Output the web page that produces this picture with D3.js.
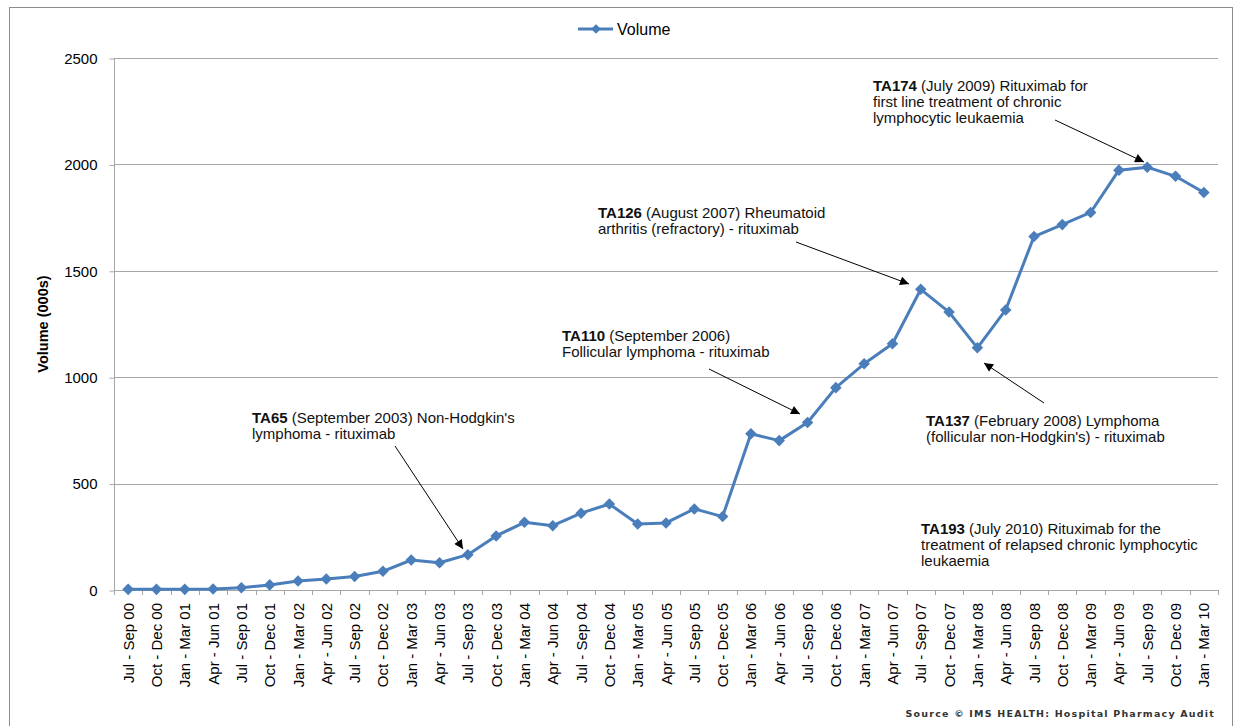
<!DOCTYPE html>
<html>
<head>
<meta charset="utf-8">
<script src="https://cdn.jsdelivr.net/npm/d3@7"></script>
<style>
  body { margin: 0; background: #fff; }
  svg { display: block; font-family: "Liberation Sans", Arial, sans-serif; }
</style>
</head>
<body>
<script>
// quarters, Jul-Sep 2000 .. Jan-Mar 2010
var quarters = [
  "Jul - Sep 00", "Oct - Dec 00",
  "Jan - Mar 01", "Apr - Jun 01", "Jul - Sep 01", "Oct - Dec 01",
  "Jan - Mar 02", "Apr - Jun 02", "Jul - Sep 02", "Oct - Dec 02",
  "Jan - Mar 03", "Apr - Jun 03", "Jul - Sep 03", "Oct - Dec 03",
  "Jan - Mar 04", "Apr - Jun 04", "Jul - Sep 04", "Oct - Dec 04",
  "Jan - Mar 05", "Apr - Jun 05", "Jul - Sep 05", "Oct - Dec 05",
  "Jan - Mar 06", "Apr - Jun 06", "Jul - Sep 06", "Oct - Dec 06",
  "Jan - Mar 07", "Apr - Jun 07", "Jul - Sep 07", "Oct - Dec 07",
  "Jan - Mar 08", "Apr - Jun 08", "Jul - Sep 08", "Oct - Dec 08",
  "Jan - Mar 09", "Apr - Jun 09", "Jul - Sep 09", "Oct - Dec 09",
  "Jan - Mar 10"
];
var volume = [
  3, 3, 3, 5, 11, 24, 42, 52, 63, 88,
  141, 128, 166, 254, 318, 302, 361, 404, 310, 315,
  381, 345, 734, 702, 787, 951, 1063, 1157, 1413, 1306,
  1138, 1316, 1661, 1717, 1774, 1973, 1987, 1944, 1868
];
var yTicks = [0, 500, 1000, 1500, 2000, 2500];

var notes = [
  { bold: "TA65", lines: [" (September 2003) Non-Hodgkin's", "lymphoma - rituximab"] },
  { bold: "TA110", lines: [" (September 2006)", "Follicular lymphoma - rituximab"] },
  { bold: "TA126", lines: [" (August 2007) Rheumatoid", "arthritis (refractory) - rituximab"] },
  { bold: "TA174", lines: [" (July 2009) Rituximab for", "first line treatment of chronic", "lymphocytic leukaemia"] },
  { bold: "TA137", lines: [" (February 2008) Lymphoma", "(follicular non-Hodgkin's) - rituximab"] },
  { bold: "TA193", lines: [" (July 2010) Rituximab for the", "treatment of relapsed chronic lymphocytic", "leukaemia"] }
];

var W = 1243, H = 726;
var plotL = 114, plotR = 1218, plotT = 58, plotB = 590;
var blue = "#4a7ebb";
var grid = "#a6a6a6";

var svg = d3.select("body").append("svg")
  .attr("width", W).attr("height", H);

svg.append("rect")
  .attr("x", 9.5).attr("y", 7.5).attr("width", 1223).attr("height", 730)
  .attr("fill", "#fff").attr("stroke", "#8c8c8c").attr("stroke-width", 1);

var x = d3.scaleBand().domain(quarters).range([plotL, plotR]);
var y = d3.scaleLinear().domain([0, 2500]).range([plotB, plotT]);

// gridlines
svg.append("g").selectAll("line")
  .data(yTicks.filter(function(d) { return d > 0; })).enter()
  .append("line")
  .attr("x1", plotL).attr("x2", plotR)
  .attr("y1", function(d) { return Math.round(y(d)) + 0.5; })
  .attr("y2", function(d) { return Math.round(y(d)) + 0.5; })
  .attr("stroke", grid);

// y axis
var yAxis = svg.append("g")
  .attr("transform", "translate(" + (plotL + 0.5) + ",0.5)")
  .call(d3.axisLeft(y).tickValues(yTicks).tickFormat(d3.format("d")).tickSize(5).tickPadding(12));
yAxis.select(".domain").attr("stroke", grid).attr("d", "M0," + plotT + "V" + plotB);
yAxis.selectAll(".tick line").attr("stroke", grid);
yAxis.selectAll(".tick text")
  .attr("font-size", 15).attr("fill", "#000")
  .attr("font-family", "Liberation Sans, Arial, sans-serif");

// x axis: ticks between categories, labels rotated
var xg = svg.append("g");
xg.append("line")
  .attr("x1", plotL).attr("x2", plotR)
  .attr("y1", plotB + 0.5).attr("y2", plotB + 0.5)
  .attr("stroke", grid);
xg.selectAll("line.tk")
  .data(d3.range(quarters.length + 1)).enter()
  .append("line").attr("class", "tk")
  .attr("x1", function(i) { return Math.round(plotL + i * x.step()) + 0.5; })
  .attr("x2", function(i) { return Math.round(plotL + i * x.step()) + 0.5; })
  .attr("y1", plotB).attr("y2", plotB + 5)
  .attr("stroke", grid);
xg.selectAll("text")
  .data(quarters).enter()
  .append("text")
  .attr("transform", function(d) {
    return "translate(" + (x(d) + x.bandwidth() / 2 + 5.5) + "," + (plotB + 13) + ") rotate(-90)";
  })
  .attr("text-anchor", "end")
  .attr("font-size", 15)
  .text(function(d) { return d; });

// y title
svg.append("text")
  .attr("transform", "translate(48," + ((plotT + plotB) / 2) + ") rotate(-90)")
  .attr("text-anchor", "middle")
  .attr("font-size", 14.5).attr("font-weight", "bold")
  .text("Volume (000s)");

// series
var cx = function(d, i) { return x(quarters[i]) + x.bandwidth() / 2; };
var line = d3.line()
  .x(function(d, i) { return cx(d, i); })
  .y(function(d) { return y(d); });
svg.append("path")
  .datum(volume)
  .attr("d", line)
  .attr("fill", "none").attr("stroke", blue).attr("stroke-width", 3)
  .attr("stroke-linejoin", "round");

var diamond = d3.symbol().type(d3.symbolDiamond2).size(85);
svg.append("g").selectAll("path")
  .data(volume).enter()
  .append("path")
  .attr("d", diamond)
  .attr("transform", function(d, i) { return "translate(" + cx(d, i) + "," + y(d) + ")"; })
  .attr("fill", blue);

// legend
var lg = svg.append("g").attr("transform", "translate(578,29)");
lg.append("line").attr("x1", 0).attr("x2", 35).attr("stroke", blue).attr("stroke-width", 3);
lg.append("path").attr("d", d3.symbol().type(d3.symbolDiamond2).size(60)).attr("transform", "translate(18,0)").attr("fill", blue);
lg.append("text").attr("x", 39).attr("y", 5.5).attr("font-size", 16).text("Volume");

// annotations
svg.append("defs").append("marker")
  .attr("id", "ah").attr("viewBox", "0 0 10 10")
  .attr("refX", 10).attr("refY", 5)
  .attr("markerWidth", 11).attr("markerHeight", 9)
  .attr("markerUnits", "userSpaceOnUse")
  .attr("orient", "auto")
  .append("path").attr("d", "M0,0L10,5L0,10Z").attr("fill", "#000");

var notePos = [
  { x: 252, y: 423, ax: [395, 446], at: [463, 549] },
  { x: 562, y: 341, ax: [709, 369], at: [800, 414] },
  { x: 598, y: 218, ax: [796, 242], at: [909, 284] },
  { x: 873, y: 91,  ax: [1055, 120], at: [1144, 162] },
  { x: 926, y: 426, ax: [1044, 403], at: [984, 363] },
  { x: 921, y: 534, ax: null, at: null }
];

notes.forEach(function(n, k) {
  var p = notePos[k];
  var t = svg.append("text").attr("x", p.x).attr("y", p.y).attr("font-size", 15).attr("fill", "#111");
  t.append("tspan").attr("font-weight", "bold").text(n.bold);
  t.append("tspan").text(n.lines[0]);
  n.lines.slice(1).forEach(function(l, j) {
    svg.append("text").attr("x", p.x).attr("y", p.y + 16 * (j + 1))
      .attr("font-size", 15).attr("fill", "#111").text(l);
  });
  if (p.ax) {
    svg.append("line")
      .attr("x1", p.ax[0]).attr("y1", p.ax[1])
      .attr("x2", p.at[0]).attr("y2", p.at[1])
      .attr("stroke", "#000").attr("stroke-width", 1)
      .attr("marker-end", "url(#ah)");
  }
});

// source
svg.append("text")
  .attr("x", 1215).attr("y", 717)
  .attr("text-anchor", "end")
  .attr("font-family", "DejaVu Sans, sans-serif")
  .attr("font-size", 9.5).attr("font-weight", "bold").attr("fill", "#333")
  .attr("letter-spacing", 1.2)
  .text("Source \u00a9 IMS HEALTH: Hospital Pharmacy Audit");
</script>
</body>
</html>
